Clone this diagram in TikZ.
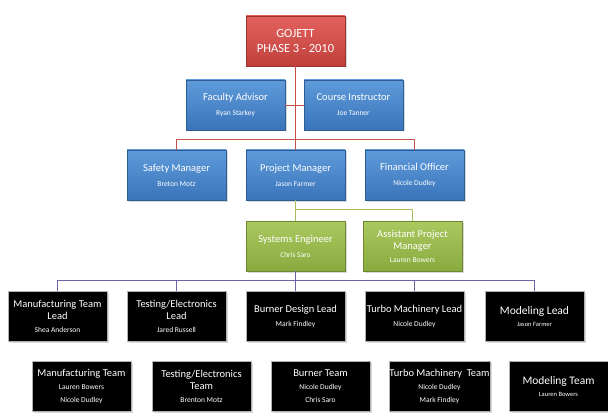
\documentclass[tikz,border=0pt]{standalone}
\usepackage{fontspec}
\setmainfont{Carlito}
\usetikzlibrary{positioning, shadows}
\definecolor{redtop}{HTML}{E4625D}
\definecolor{redbot}{HTML}{BF403B}
\definecolor{bluetop}{HTML}{5E9BDA}
\definecolor{bluebot}{HTML}{3A74BA}
\definecolor{greentop}{HTML}{AAC960}
\definecolor{greenbot}{HTML}{89AA3E}
\definecolor{redln}{HTML}{C8504B}
\definecolor{greenln}{HTML}{A8BE5C}
\definecolor{blueln}{HTML}{6E62A8}

\newcommand{\who}[1]{{\fontsize{7.5}{9}\selectfont #1}}

\tikzset{
  box/.style={rectangle, minimum width=99, minimum height=50, inner sep=0.5pt,
    align=center, text=white, line width=0.4pt,
    font=\fontsize{10.5}{12}\selectfont,
    drop shadow={opacity=0.3, shadow xshift=1.5pt, shadow yshift=-1.5pt}},
  redbox/.style={box, top color=redtop, bottom color=redbot, draw=redbot!80!black},
  bluebox/.style={box, top color=bluetop, bottom color=bluebot, draw=bluebot!80!black},
  greenbox/.style={box, top color=greentop, bottom color=greenbot, draw=greenbot!80!black},
  leadbox/.style={box, fill=black, draw=gray!60},
  redline/.style={draw=redln, line width=0.9pt},
  greenline/.style={draw=greenln, line width=0.9pt},
  blueline/.style={draw=blueln, line width=0.9pt}
}

\begin{document}
\begin{tikzpicture}[x=1pt,y=-1pt]
  \useasboundingbox (0,0) rectangle (608,417);

  % upper levels
  \node[redbox, font=\fontsize{12.5}{15}\selectfont] (gojett) at (295.5,41) {GOJETT\\PHASE 3 - 2010};
  \node[bluebox] (fa) at (235.5,105) {Faculty Advisor\\[3pt]\who{Ryan Starkey}};
  \node[bluebox] (ci) at (353.5,105) {Course Instructor\\[3pt]\who{Joe Tanner}};
  \node[bluebox] (sm) at (176.5,175) {Safety Manager\\[3pt]\who{Breton Motz}};
  \node[bluebox] (pm) at (295.5,175) {Project Manager\\[3pt]\who{Jason Farmer}};
  \node[bluebox] (fo) at (414.5,175) {Financial Officer\\[3pt]\who{Nicole Dudley}};
  \node[greenbox] (se) at (295.5,246) {Systems Engineer\\[3pt]\who{Chris Saro}};
  \node[greenbox] (apm) at (412.5,246) {Assistant Project\\Manager\\[1pt]\who{Lauren Bowers}};

  % leads
  \foreach \x/\txt [count=\i] in {
      57.5/{Manufacturing Team\\Lead\\[1pt]\who{Shea Anderson}},
      176.5/{Testing/Electronics\\Lead\\[1pt]\who{Jared Russell}},
      295.5/{Burner Design Lead\\[2pt]\who{Mark Findley}},
      414.5/{Turbo Machinery Lead\\[2pt]\who{Nicole Dudley}},
      534.5/{\fontsize{11.5}{12}\selectfont Modeling Lead\\{\fontsize{6.5}{7}\selectfont Jason Farmer}}}
    \node[leadbox] (lead\i) at (\x,316.5) {\txt};

  % teams
  \foreach \x/\txt [count=\i] in {
      81.5/{Manufacturing Team\\[1pt]\who{Lauren Bowers}\\[1pt]\who{Nicole Dudley}},
      201.5/{Testing/Electronics\\Team\\[1pt]\who{Brenton Motz}},
      320.5/{Burner Team\\[1pt]\who{Nicole Dudley}\\[1pt]\who{Chris Saro}},
      439.5/{Turbo Machinery~~Team\\[1pt]\who{Nicole Dudley}\\[1pt]\who{Mark Findley}},
      558.5/{\fontsize{11.5}{12}\selectfont Modeling Team\\{\fontsize{6.5}{7}\selectfont Lauren Bowers}}}
    \node[leadbox] (team\i) at (\x,386.5) {\txt};

  % connectors
  \draw[redline] (gojett) -- (pm);
  \draw[redline] (fa) -- (fa -| gojett);
  \draw[redline] (ci) -- (ci -| gojett);
  \draw[redline] (sm.north) -- ++(0,-10) -| (fo.north);
  \draw[greenline] (pm) -- (se);
  \draw[greenline] (apm.north) -- ++(0,-11) -| (pm.south);
  \draw[blueline] (se) -- (lead3);
  \foreach \i in {1,2,4,5}
    \draw[blueline] (lead\i.north) -- ++(0,-11) -| (se.south);
\end{tikzpicture}
\end{document}
